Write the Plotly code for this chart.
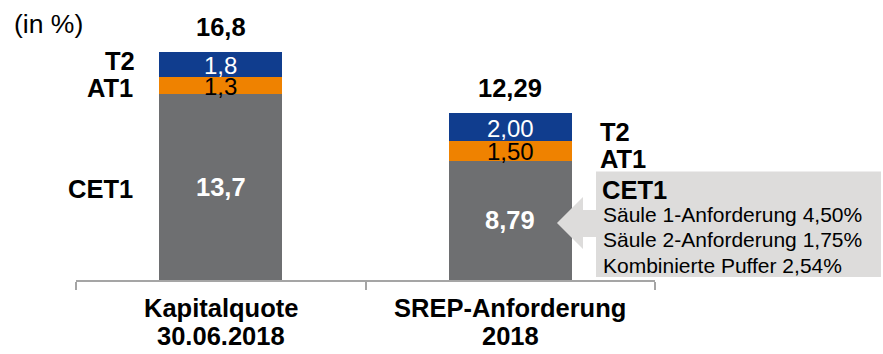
import plotly.graph_objects as go

# Capital ratio vs. SREP requirement (in %)
categories = ["Kapitalquote 30.06.2018", "SREP-Anforderung 2018"]
category_lines = [["Kapitalquote", "30.06.2018"], ["SREP-Anforderung", "2018"]]
cet1 = [13.7, 8.79]
at1 = [1.3, 1.50]
t2 = [1.8, 2.00]
decimals = [1, 2]
totals = [16.8, 12.29]
cet1_breakdown = [
    ("Säule 1-Anforderung", 4.50),
    ("Säule 2-Anforderung", 1.75),
    ("Kombinierte Puffer", 2.54),
]

BLUE = "#103d8e"
ORANGE = "#ef8200"
GREY = "#6e6f71"
BOX = "#dddcdb"
AXIS = "#a5a5a5"
FONT = "Liberation Sans, Arial, sans-serif"

W, H = 883, 354
ML, MR, MT, MB = 76, 228, 0, 74
PW, PH = W - ML - MR, H - MT - MB
PX_PER_UNIT = 13.55
YMAX = PH / PX_PER_UNIT
BIG = 25.5


def fmt(v, d):
    return f"{v:.{d}f}".replace(".", ",")


def px_x(px):
    return (px - ML) / PW


def px_y(py):
    return (MT + PH - py) / PH


fig = go.Figure()
for name, vals, color in [("CET1", cet1, GREY), ("AT1", at1, ORANGE), ("T2", t2, BLUE)]:
    fig.add_trace(go.Bar(
        x=categories, y=vals, name=name, marker=dict(color=color, line=dict(width=0)),
        width=0.425, hoverinfo="skip",
    ))

annotations = []
# segment values
for i, cat in enumerate(categories):
    d = decimals[i]
    segs = [(cet1[i], 0, True, "white"),
            (at1[i], cet1[i], False, "black"),
            (t2[i], cet1[i] + at1[i], False, "white")]
    for v, base, bold, col in segs:
        txt = fmt(v, d)
        annotations.append(dict(
            x=cat, y=base + v / 2, xref="x", yref="y", showarrow=False,
            text=f"<b>{txt}</b>" if bold else txt,
            font=dict(family=FONT, size=BIG if bold else 24, color=col),
            yshift=-1 if not bold else 0,
            borderpad=0, borderwidth=0,
        ))
    total = cet1[i] + at1[i] + t2[i]
    annotations.append(dict(
        x=cat, y=total, xref="x", yref="y", showarrow=False, yshift=25,
        text=f"<b>{fmt(totals[i], d)}</b>",
        font=dict(family=FONT, size=BIG, color="black"),
    ))

# two-line category labels
for i, cat in enumerate(categories):
    for j, line in enumerate(category_lines[i]):
        annotations.append(dict(
            x=cat, y=px_y([308, 336][j]), xref="x", yref="paper", showarrow=False,
            text=f"<b>{line}</b>", font=dict(family=FONT, size=BIG, color="black"),
            yanchor="middle",
        ))


def label(text, px, py, anchor, size=BIG, bold=True):
    annotations.append(dict(
        x=px_x(px), y=px_y(py), xref="paper", yref="paper", showarrow=False,
        xanchor=anchor, yanchor="middle", borderpad=0, borderwidth=0,
        text=f"<b>{text}</b>" if bold else text,
        font=dict(family=FONT, size=size, color="black"),
    ))


# series labels left of the first bar
label("T2", 135, 60.5, "right")
label("AT1", 133, 87.5, "right")
label("CET1", 133, 188.5, "right")
# series labels right of the second bar
label("T2", 600, 131.5, "left")
label("AT1", 600, 159, "left")
label("CET1", 602, 190, "left")
for k, (txt, v) in enumerate(cet1_breakdown):
    label(f"{txt} {fmt(v, 2)}%", 603, [214.5, 239.5, 265][k], "left", size=21, bold=False)

label("(in %)", 14, 24, "left", size=26.5, bold=False)

# callout box with arrow pointing at the CET1 segment
def pt(px, py):
    return f"{px_x(px):.5f},{px_y(py):.5f}"

shapes = [
    dict(type="rect", xref="paper", yref="paper",
         x0=px_x(596), x1=px_x(881), y0=px_y(277), y1=px_y(171.5),
         fillcolor=BOX, line=dict(width=0), layer="above"),
    dict(type="path", xref="paper", yref="paper", layer="above",
         path="M " + " L ".join([pt(557, 223), pt(583, 197), pt(583, 210), pt(597, 210),
                                  pt(597, 237), pt(583, 237), pt(583, 249)]) + " Z",
         fillcolor=BOX, line=dict(width=0)),
]

fig.update_layout(
    barmode="stack",
    width=W, height=H,
    margin=dict(l=ML, r=MR, t=MT, b=MB, pad=0),
    paper_bgcolor="white", plot_bgcolor="white",
    showlegend=False,
    annotations=annotations,
    shapes=shapes,
    xaxis=dict(
        type="category", range=[-0.5, 1.5], tickson="boundaries",
        showline=True, linecolor=AXIS, linewidth=2,
        ticks="outside", ticklen=8, tickwidth=2, tickcolor=AXIS,
        showticklabels=False, showgrid=False, zeroline=False, fixedrange=True,
    ),
    yaxis=dict(range=[0, YMAX], visible=False, showgrid=False, zeroline=False, fixedrange=True),
)

fig.write_html("out.html", config=dict(displayModeBar=False))
